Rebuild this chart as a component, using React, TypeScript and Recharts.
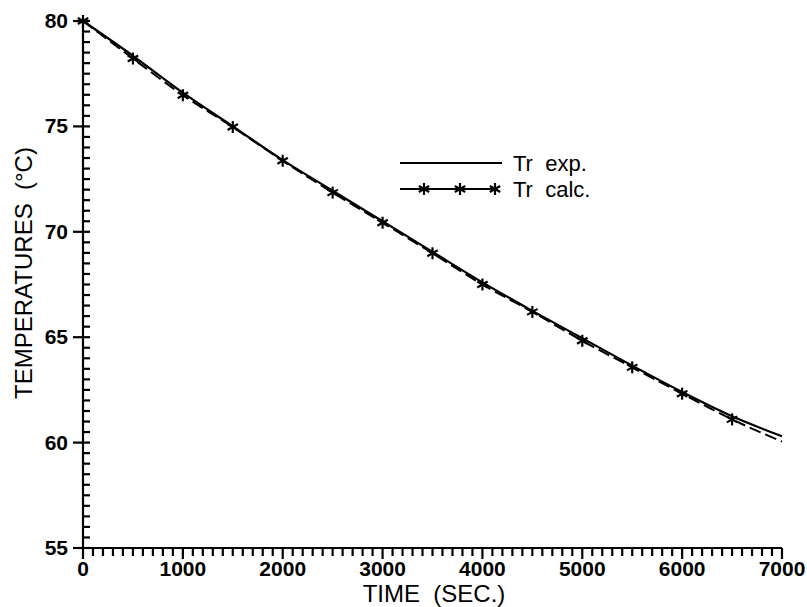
import React from "react";
import { LineChart, Line, XAxis, YAxis } from "recharts";

// time (s)
const times = [0, 500, 1000, 1500, 2000, 2500, 3000, 3500, 4000, 4500, 5000, 5500, 6000, 6500, 7000];
// measured reactor temperature
const trExp = [80, 78.35, 76.6, 75.0, 73.4, 71.95, 70.5, 69.05, 67.6, 66.25, 64.95, 63.65, 62.4, 61.25, 60.3];
// calculated reactor temperature
const trCalc = [80, 78.22, 76.48, 74.97, 73.37, 71.86, 70.43, 68.98, 67.5, 66.2, 64.83, 63.57, 62.32, 61.1, 60.05];

const xLabels = [0, 1000, 2000, 3000, 4000, 5000, 6000, 7000];
const yLabels = [55, 60, 65, 70, 75, 80];

const xTicks: number[] = [];
for (let t = 0; t <= 7000; t += 100) xTicks.push(t);
const yTicks: number[] = [];
for (let v = 55; v <= 80; v += 0.5) yTicks.push(v);

const data = times.map((t, i) => ({ t, exp: trExp[i], calc: trCalc[i] }));

const FONT = "'Liberation Sans', Arial, sans-serif";
const SP = "\u00a0\u00a0";

const Star = ({ cx, cy, size = 6 }) => {
  const s = size;
  const d = s * 0.87;
  return (
    <g stroke="#000" strokeWidth={2.2}>
      <line x1={cx} y1={cy - s} x2={cx} y2={cy + s} />
      <line x1={cx - d} y1={cy - s / 2} x2={cx + d} y2={cy + s / 2} />
      <line x1={cx - d} y1={cy + s / 2} x2={cx + d} y2={cy - s / 2} />
    </g>
  );
};

const CalcDot = (props) => {
  const { cx, cy, payload } = props;
  if (payload.t > 6500) return <g key={props.key} />;
  return <Star key={props.key} cx={cx} cy={cy} />;
};

const XTick = ({ x, y, payload }) => {
  const v = payload.value;
  const major = xLabels.includes(v);
  return (
    <g>
      <line x1={x} y1={y} x2={x} y2={y + (major ? 11 : 8)} stroke="#000" strokeWidth={2.2} />
      {major && (
        <text x={x} y={y + 28} textAnchor="middle" fontFamily={FONT} fontWeight="bold" fontSize={21} fill="#000">
          {v}
        </text>
      )}
    </g>
  );
};

const YTick = ({ x, y, payload }) => {
  const v = payload.value;
  const major = yLabels.includes(v);
  return (
    <g>
      <line x1={x} y1={y} x2={x + 7} y2={y} stroke="#000" strokeWidth={2.2} />
      {major && (
        <>
          <line x1={x - 10} y1={y} x2={x} y2={y} stroke="#000" strokeWidth={2.2} />
          <text x={x - 15} y={y + 7} textAnchor="end" fontFamily={FONT} fontWeight="bold" fontSize={21} fill="#000">
            {v}
          </text>
        </>
      )}
    </g>
  );
};

export default function App() {
  return (
    <div style={{ position: "absolute", left: 0, top: 0, width: 807, height: 607, background: "#fff" }}>
      <LineChart width={807} height={607} data={data} margin={{ top: 21, right: 25, bottom: 0, left: 0 }}>
        <XAxis
          dataKey="t"
          type="number"
          domain={[0, 7000]}
          ticks={xTicks}
          interval={0}
          tickSize={0}
          tickMargin={0}
          tick={XTick}
          height={59}
          axisLine={{ stroke: "#000", strokeWidth: 2.2 }}
        />
        <YAxis
          type="number"
          domain={[55, 80]}
          ticks={yTicks}
          interval={0}
          tickSize={0}
          tickMargin={0}
          tick={YTick}
          width={83}
          axisLine={{ stroke: "#000", strokeWidth: 2.2 }}
        />
        <Line
          type="monotone"
          dataKey="calc"
          stroke="#000"
          strokeWidth={2}
          strokeDasharray="12 5"
          dot={CalcDot}
          activeDot={false}
          isAnimationActive={false}
        />
        <Line
          type="monotone"
          dataKey="exp"
          stroke="#000"
          strokeWidth={2.2}
          dot={false}
          activeDot={false}
          isAnimationActive={false}
        />
      </LineChart>
      <svg width={807} height={607} style={{ position: "absolute", left: 0, top: 0, pointerEvents: "none" }}>
        <text
          transform="translate(32,273) rotate(-90)"
          textAnchor="middle"
          fontFamily={FONT}
          fontSize={24}
          fill="#000"
        >
          {"TEMPERATURES" + SP + "(°C)"}
        </text>
        <text x={434} y={602} textAnchor="middle" fontFamily={FONT} fontSize={24} fill="#000">
          {"TIME" + SP + "(SEC.)"}
        </text>
        <line x1={400} y1={163} x2={502} y2={163} stroke="#000" strokeWidth={2} />
        <text x={513} y={171} fontFamily={FONT} fontSize={22} fill="#000">
          {"Tr" + SP + "exp."}
        </text>
        <line x1={400} y1={189} x2={497} y2={189} stroke="#000" strokeWidth={2} />
        <Star cx={424} cy={189} />
        <Star cx={460} cy={189} />
        <Star cx={495} cy={189} />
        <text x={513} y={197} fontFamily={FONT} fontSize={22} fill="#000">
          {"Tr" + SP + "calc."}
        </text>
      </svg>
    </div>
  );
}
